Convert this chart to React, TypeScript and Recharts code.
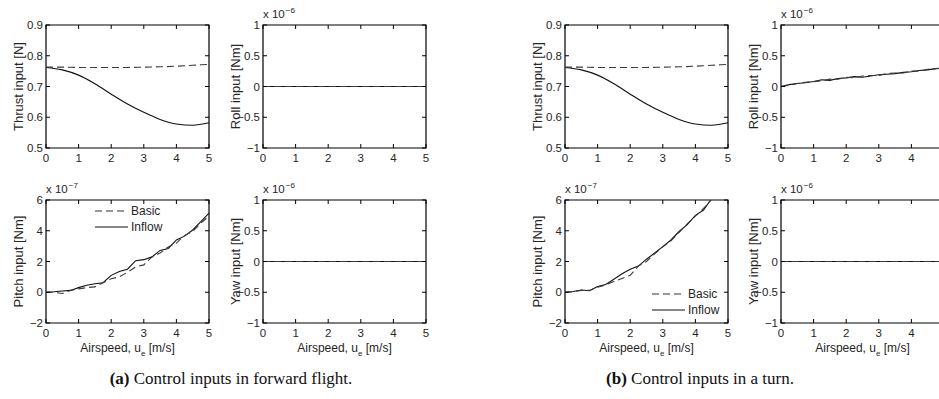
import React from 'react';
import { LineChart, Line, XAxis, YAxis, ReferenceArea, Legend } from 'recharts';

// ---------- data ----------
const xTicks = [0, 1, 2, 3, 4, 5];
const xCoarse = [0, 0.5, 1, 1.5, 2, 2.5, 3, 3.5, 4, 4.5, 5];
const xFine = [0, 0.25, 0.5, 0.75, 1, 1.25, 1.5, 1.75, 2, 2.25, 2.5, 2.75, 3, 3.25, 3.5, 3.75, 4, 4.25, 4.5, 4.75, 5];
const xZero = [0, 1, 2, 3, 4, 5];

const seriesNames = ['Basic', 'Inflow'];

// thrust input [N]
const thrustBasic = [0.763, 0.763, 0.762, 0.762, 0.762, 0.762, 0.763, 0.764, 0.766, 0.769, 0.772];
const thrustInflow = [0.762, 0.754, 0.737, 0.709, 0.675, 0.643, 0.616, 0.593, 0.578, 0.574, 0.582];

// zero-valued moments (x 1e-6)
const zeroBasic = [0, 0, 0, 0, 0, 0];
const zeroInflow = [0, 0, 0, 0, 0, 0];

// pitch input, forward flight (x 1e-7)
const pitchBasicA = [0, 0, -0.08, 0.12, 0.22, 0.3, 0.35, 0.62, 0.88, 1.0, 1.3, 1.65, 1.78, 2.3, 2.55, 2.95, 3.2, 3.7, 3.95, 4.5, 4.95];
const pitchInflowA = [0, 0.03, 0.08, 0.12, 0.3, 0.45, 0.55, 0.62, 1.1, 1.35, 1.5, 2.05, 2.12, 2.3, 2.72, 2.85, 3.4, 3.65, 4.05, 4.6, 5.15];

// pitch input, turn (x 1e-7)
const pitchBasicB = [0, 0.03, 0.12, 0.12, 0.33, 0.48, 0.7, 0.9, 1.1, 1.7, 2.0, 2.5, 2.95, 3.35, 3.9, 4.45, 4.95, 5.45, 6.05, 6.7, 7.4];
const pitchInflowB = [0, 0.05, 0.15, 0.1, 0.37, 0.5, 0.85, 1.2, 1.5, 1.7, 2.15, 2.55, 2.97, 3.4, 3.95, 4.4, 5.0, 5.35, 6.1, 6.8, 7.5];

// roll input, turn (x 1e-6)
const rollBasicB = [0, 0.02, 0.05, 0.07, 0.08, 0.09, 0.12, 0.12, 0.15, 0.14, 0.17, 0.18, 0.18, 0.21, 0.22, 0.22, 0.25, 0.25, 0.28, 0.29, 0.3];
const rollInflowB = [0, 0.03, 0.05, 0.06, 0.08, 0.11, 0.1, 0.13, 0.14, 0.16, 0.15, 0.17, 0.19, 0.2, 0.21, 0.23, 0.24, 0.26, 0.27, 0.29, 0.31];

const thrustTicks = [0.5, 0.6, 0.7, 0.8, 0.9];
const momentTicks = [-1, -0.5, 0, 0.5, 1];
const pitchTicks = [-2, 0, 2, 4, 6];

const captionA = ['(a)', ' Control inputs in forward flight.'];
const captionB = ['(b)', ' Control inputs in a turn.'];

// ---------- layout ----------
const PAGE_W = 939;
const PW = 163;
const PH = 123;
const ML = 46;
const MT = 22;
const MR = 12;
const MB = 36;
const CW = ML + PW + MR;
const CH = MT + PH + MB;
const SANS = "'Liberation Sans', Arial, Helvetica, sans-serif";
const TXT = '#262626';

const rowsOf = (xs: number[], b: number[], f: number[]) =>
  xs.map((x, i) => ({ x, basic: b[i], inflow: f[i] }));

const fmt = (v: number) => String(v).replace('-', '\u2212');

const XTick = (props: any) => {
  const { x, payload, pageLeft } = props;
  const visible = pageLeft + x + 4 <= PAGE_W;
  return (
    <g>
      <line x1={x} x2={x} y1={MT + PH} y2={MT + PH - 4} stroke="#000" strokeWidth={1} />
      <line x1={x} x2={x} y1={MT} y2={MT + 4} stroke="#000" strokeWidth={1} />
      {visible && (
        <text x={x} y={MT + PH + 14} textAnchor="middle" fontSize={11.5} fill={TXT} fontFamily={SANS}>
          {fmt(payload.value)}
        </text>
      )}
    </g>
  );
};

const YTick = (props: any) => {
  const { y, payload } = props;
  return (
    <g>
      <line x1={ML} x2={ML + 4} y1={y} y2={y} stroke="#000" strokeWidth={1} />
      <line x1={ML + PW} x2={ML + PW - 4} y1={y} y2={y} stroke="#000" strokeWidth={1} />
      <text x={ML - 3} y={y} textAnchor="end" dominantBaseline="central" fontSize={11.5} fill={TXT} fontFamily={SANS}>
        {fmt(payload.value)}
      </text>
    </g>
  );
};

const LegendBox = () => (
  <svg width={80} height={34} style={{ overflow: 'visible', display: 'block' }}>
    <line x1={0} x2={33} y1={8} y2={8} stroke="#333" strokeWidth={1.1} strokeDasharray="7 4" />
    <text x={36} y={8} dominantBaseline="central" fontSize={12} fill={TXT} fontFamily={SANS}>{seriesNames[0]}</text>
    <line x1={0} x2={33} y1={24} y2={24} stroke="#111" strokeWidth={1.1} />
    <text x={36} y={24} dominantBaseline="central" fontSize={12} fill={TXT} fontFamily={SANS}>{seriesNames[1]}</text>
  </svg>
);

type PanelProps = {
  px: number;
  py: number;
  rows: { x: number; basic: number; inflow: number }[];
  yDomain: [number, number];
  yTicks: number[];
  yLabel: string;
  exp?: string;
  xLabel?: boolean;
  legendAt?: [number, number];
  smooth?: boolean;
};

function Panel({ px, py, rows, yDomain, yTicks, yLabel, exp, xLabel, legendAt, smooth }: PanelProps) {
  const lineType = smooth ? 'monotone' : 'linear';
  return (
    <>
      <div style={{ position: 'absolute', left: px - ML, top: py - MT }}>
        <LineChart width={CW} height={CH} data={rows} margin={{ top: MT, right: MR, bottom: 0, left: 0 }}>
          <XAxis
            dataKey="x"
            type="number"
            domain={[0, 5]}
            ticks={xTicks}
            interval={0}
            height={MB}
            axisLine={false}
            tickLine={false}
            tick={<XTick pageLeft={px - ML} />}
            label={
              xLabel
                ? {
                    content: () => (
                      <text x={ML + PW / 2} y={MT + PH + 29} textAnchor="middle" fontSize={12} fill={TXT} fontFamily={SANS}>
                        Airspeed, u
                        <tspan dy={4} fontSize={8}>e</tspan>
                        <tspan dy={-4}> [m/s]</tspan>
                      </text>
                    ),
                  }
                : undefined
            }
          />
          <YAxis
            type="number"
            domain={yDomain}
            ticks={yTicks}
            interval={0}
            width={ML}
            allowDataOverflow
            axisLine={false}
            tickLine={false}
            tick={<YTick />}
            label={{
              content: () => (
                <text
                  x={18}
                  y={MT + PH / 2}
                  transform={`rotate(-90 18 ${MT + PH / 2})`}
                  textAnchor="middle"
                  dominantBaseline="central"
                  fontSize={13}
                  fill={TXT}
                  fontFamily={SANS}
                >
                  {yLabel}
                </text>
              ),
            }}
          />
          <ReferenceArea x1={0} x2={5} y1={yDomain[0]} y2={yDomain[1]} fill="none" fillOpacity={0} stroke="#000" strokeWidth={1.2} />
          <Line dataKey="inflow" name={seriesNames[1]} type={lineType} stroke="#111" strokeWidth={1.1} dot={false} isAnimationActive={false} />
          <Line dataKey="basic" name={seriesNames[0]} type={lineType} stroke="#3a3a3a" strokeWidth={1.1} strokeDasharray="7 4" dot={false} isAnimationActive={false} />
          {legendAt && (
            <Legend
              layout="vertical"
              align="center"
              verticalAlign="middle"
              wrapperStyle={{ left: legendAt[0], top: legendAt[1] - 8, width: 80, height: 34 }}
              content={() => <LegendBox />}
            />
          )}
        </LineChart>
      </div>
      {exp && (
        <div
          style={{
            position: 'absolute',
            left: px,
            top: py - 18,
            fontSize: 11.5,
            lineHeight: '14px',
            fontFamily: SANS,
            color: TXT,
            whiteSpace: 'nowrap',
          }}
        >
          x 10<span style={{ fontSize: 8, position: 'relative', top: -5, marginLeft: 1 }}>{exp}</span>
        </div>
      )}
    </>
  );
}

const captionStyle: React.CSSProperties = {
  position: 'absolute',
  top: 369,
  width: 470,
  textAlign: 'center',
  fontFamily: "'Liberation Serif', 'Times New Roman', serif",
  fontSize: 17,
  lineHeight: '20px',
  color: '#111',
  whiteSpace: 'nowrap',
};

export default function App() {
  const thrustRows = rowsOf(xCoarse, thrustBasic, thrustInflow);
  const zeroRows = rowsOf(xZero, zeroBasic, zeroInflow);
  return (
    <div
      style={{
        position: 'absolute',
        left: 0,
        top: 0,
        width: PAGE_W,
        height: 399,
        overflow: 'hidden',
        background: '#fff',
      }}
    >
      {/* (a) forward flight */}
      <Panel px={46} py={25} rows={thrustRows} yDomain={[0.5, 0.9]} yTicks={thrustTicks} yLabel="Thrust input [N]" smooth />
      <Panel px={263} py={25} rows={zeroRows} yDomain={[-1, 1]} yTicks={momentTicks} yLabel="Roll input [Nm]" exp={'\u22126'} />
      <Panel
        px={46}
        py={200}
        rows={rowsOf(xFine, pitchBasicA, pitchInflowA)}
        yDomain={[-2, 6]}
        yTicks={pitchTicks}
        yLabel="Pitch input [Nm]"
        exp={'\u22127'}
        xLabel
        legendAt={[95, 33]}
      />
      <Panel px={263} py={200} rows={zeroRows} yDomain={[-1, 1]} yTicks={momentTicks} yLabel="Yaw input [Nm]" exp={'\u22126'} xLabel />

      {/* (b) turn */}
      <Panel px={565} py={25} rows={thrustRows} yDomain={[0.5, 0.9]} yTicks={thrustTicks} yLabel="Thrust input [N]" smooth />
      <Panel
        px={781}
        py={25}
        rows={rowsOf(xFine, rollBasicB, rollInflowB)}
        yDomain={[-1, 1]}
        yTicks={momentTicks}
        yLabel="Roll input [Nm]"
        exp={'\u22126'}
      />
      <Panel
        px={565}
        py={200}
        rows={rowsOf(xFine, pitchBasicB, pitchInflowB)}
        yDomain={[-2, 6]}
        yTicks={pitchTicks}
        yLabel="Pitch input [Nm]"
        exp={'\u22127'}
        xLabel
        legendAt={[133, 116]}
      />
      <Panel px={781} py={200} rows={zeroRows} yDomain={[-1, 1]} yTicks={momentTicks} yLabel="Yaw input [Nm]" exp={'\u22126'} xLabel />

      <div style={{ ...captionStyle, left: -4 }}>
        <b>{captionA[0]}</b>
        {captionA[1]}
      </div>
      <div style={{ ...captionStyle, left: 465 }}>
        <b>{captionB[0]}</b>
        {captionB[1]}
      </div>
    </div>
  );
}
